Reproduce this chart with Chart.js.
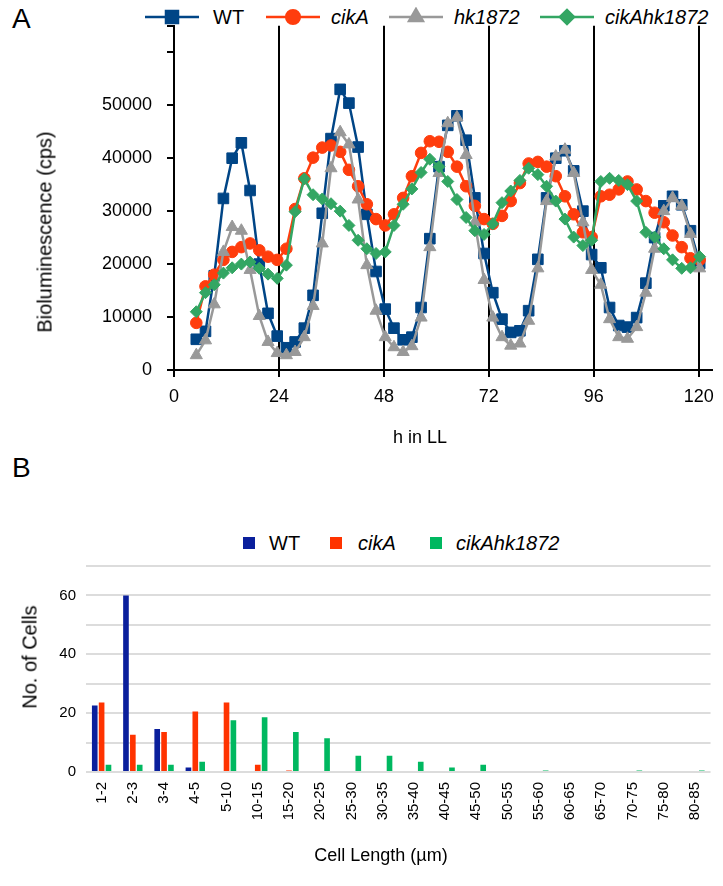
<!DOCTYPE html>
<html>
<head>
<meta charset="utf-8">
<script src="https://cdn.jsdelivr.net/npm/chart.js@4.4.1/dist/chart.umd.min.js"></script>
<style>
  body { margin: 0; background: #fff; font-family: 'Liberation Sans', Arial, sans-serif; color: #000; }
  #page { position: relative; width: 723px; height: 886px; overflow: hidden; }
  .abs { position: absolute; white-space: nowrap; }
  .panel { font-size: 28px; }
  .legtext { font-size: 20px; line-height: 20px; }
  .vtitle { transform: translate(-50%, -50%) rotate(-90deg); font-size: 20px; }
  .htitle { transform: translate(-50%, -50%); font-size: 18px; }
  .sq { width: 12px; height: 12px; }
</style>
</head>
<body>
<div id="page">
  <div class="abs panel" style="left:12px; top:3px;">A</div>
  <div class="abs panel" style="left:12px; top:452px;">B</div>

  <canvas id="swWT" class="abs" width="54" height="20" style="left:145px; top:7px;"></canvas>
  <div class="abs legtext" style="left:213px; top:7px;">WT</div>
  <canvas id="swCikA" class="abs" width="54" height="20" style="left:266px; top:7px;"></canvas>
  <div class="abs legtext" style="left:331px; top:7px;"><i>cikA</i></div>
  <canvas id="swHk" class="abs" width="54" height="20" style="left:389px; top:7px;"></canvas>
  <div class="abs legtext" style="left:454px; top:7px;"><i>hk1872</i></div>
  <canvas id="swCikAhk" class="abs" width="54" height="20" style="left:540px; top:7px;"></canvas>
  <div class="abs legtext" style="left:605px; top:7px;"><i>cikAhk1872</i></div>

  <canvas id="chartA" class="abs" width="723" height="430" style="left:0; top:0;"></canvas>
  <div class="abs vtitle" style="left:45px; top:232px;">Bioluminescence (cps)</div>
  <div class="abs htitle" style="left:420px; top:437px;">h in LL</div>

  <div class="abs sq" style="left:243px; top:537px; background:#0a1f9c;"></div>
  <div class="abs legtext" style="left:269px; top:533px;">WT</div>
  <div class="abs sq" style="left:330px; top:537px; background:#ff3300;"></div>
  <div class="abs legtext" style="left:358px; top:533px;"><i>cikA</i></div>
  <div class="abs sq" style="left:430px; top:537px; background:#00b860;"></div>
  <div class="abs legtext" style="left:456px; top:533px;"><i>cikAhk1872</i></div>

  <canvas id="chartB" class="abs" width="723" height="406" style="left:0; top:480px;"></canvas>
  <div class="abs vtitle" style="left:30px; top:657px;">No. of Cells</div>
  <div class="abs htitle" style="left:381px; top:855px;">Cell Length (µm)</div>
</div>
<script>
const FONT = "'Liberation Sans', Arial, sans-serif";
Chart.defaults.font.family = FONT;
Chart.defaults.color = "#000";

// A: bioluminescence, hours in LL
const hours = [5.1, 7.2, 9.2, 11.3, 13.3, 15.4, 17.4, 19.5, 21.5, 23.6, 25.7, 27.7, 29.8, 31.8, 33.9,
  35.9, 38.0, 40.0, 42.1, 44.1, 46.2, 48.3, 50.3, 52.4, 54.4, 56.5, 58.5, 60.6, 62.6, 64.7, 66.8,
  68.8, 70.9, 72.9, 75.0, 77.0, 79.1, 81.1, 83.2, 85.2, 87.3, 89.4, 91.4, 93.5, 95.5, 97.6, 99.6,
  101.7, 103.7, 105.8, 107.9, 109.9, 112.0, 114.0, 116.1, 118.1, 120.2];
const hourTicks = [0, 24, 48, 72, 96, 120];
const biolumTicks = [0, 10000, 20000, 30000, 40000, 50000, 60000, 65000];

const wt = [5800, 7300, 17800, 32400, 40000, 42900, 33900, 20000, 10700, 6400, 4200, 5300, 7900, 14100,
  29600, 43700, 53000, 50400, 42100, 29400, 18600, 11500, 7900, 5700, 6200, 11800, 24800, 38400, 46200,
  48000, 43400, 32500, 22000, 14600, 9600, 7100, 7400, 11200, 20900, 32500, 40000, 41400, 37600, 30000,
  21800, 19300, 11800, 8400, 8100, 9900, 16400, 25000, 31000, 32800, 31200, 26300, 20100];

const cikA = [8900, 15800, 18000, 20800, 22300, 23200, 23900, 22600, 21400, 20800, 22900, 30400, 36200,
  40100, 42000, 42400, 41200, 37800, 34700, 31300, 28500, 27300, 29400, 32500, 36600, 41000, 43200, 43100,
  41200, 38400, 34700, 31000, 28500, 27600, 29100, 31900, 35300, 39000, 39300, 38400, 36600, 32800, 29400,
  26000, 25100, 32800, 33100, 34100, 35600, 34100, 31900, 29700, 27900, 25400, 23200, 21100, 20800];

const hk1872 = [2800, 5600, 12400, 22300, 27000, 26300, 18900, 10200, 5300, 3200, 2800, 3400, 6200, 12100,
  23900, 38100, 44900, 42600, 32200, 19800, 11200, 6200, 4300, 3400, 4500, 9900, 23200, 37200, 46600,
  47700, 40600, 27900, 17000, 9900, 6200, 4600, 5000, 9300, 19200, 31900, 40300, 41600, 37200, 27900,
  18900, 16100, 9600, 6200, 5900, 8100, 14600, 22900, 30000, 32500, 31000, 25700, 19200];

const cikAhk1872 = [11000, 14600, 16100, 18300, 19300, 20000, 20400, 19200, 18100, 17300, 19800, 29900,
  36100, 33100, 32300, 31400, 30000, 27300, 24500, 22900, 22000, 22300, 27300, 31300, 34200, 37300, 39800,
  38400, 35600, 32200, 28800, 26300, 25600, 27600, 31600, 33800, 35800, 38100, 36900, 34700, 31900, 28500,
  25100, 23500, 24500, 35600, 36200, 35800, 35000, 31900, 26000, 25100, 22900, 20800, 19200, 19300, 21400];

// B: cell length distribution
const lengthBins = ["1-2", "2-3", "3-4", "4-5", "5-10", "10-15", "15-20", "20-25", "25-30", "30-35",
  "35-40", "40-45", "45-50", "50-55", "55-60", "60-65", "65-70", "70-75", "75-80", "80-85"];
const wtCells = [22.6, 60, 14.6, 1.5, 0, 0, 0, 0, 0, 0, 0, 0, 0, 0, 0, 0, 0, 0, 0, 0];
const cikACells = [23.6, 12.7, 13.6, 20.6, 23.6, 2.5, 0.5, 0, 0, 0, 0, 0, 0, 0, 0, 0, 0, 0, 0, 0];
const cikAhkCells = [2.5, 2.5, 2.5, 3.5, 17.6, 18.6, 13.6, 11.5, 5.5, 5.5, 3.5, 1.5, 2.5, 0, 0.5, 0, 0, 0.5, 0, 0.5];

const series = [
  { label: "WT", values: wt, color: "#004586", style: "rect", r: 7.5, order: 4, sw: "swWT" },
  { label: "cikA", values: cikA, color: "#ff3d0d", style: "circle", r: 5.8, order: 3, sw: "swCikA" },
  { label: "hk1872", values: hk1872, color: "#999999", style: "triangle", r: 7, order: 2, sw: "swHk" },
  { label: "cikAhk1872", values: cikAhk1872, color: "#33a663", style: "rectRot", r: 6, order: 1, sw: "swCikAhk" },
];

// legend swatches: line with marker in the middle
function drawSwatch(s) {
  const c = document.getElementById(s.sw).getContext("2d");
  c.strokeStyle = s.color;
  c.fillStyle = s.color;
  c.lineWidth = 2.5;
  c.beginPath(); c.moveTo(0, 10); c.lineTo(54, 10); c.stroke();
  Chart.helpers.drawPoint(c, { pointStyle: s.style, radius: s.r + 1, borderWidth: 1 }, 27, 10);
  c.fill();
}
series.forEach(drawSwatch);

new Chart(document.getElementById("chartA"), {
  type: "line",
  data: {
    datasets: series.map(s => ({
      label: s.label,
      data: hours.map((h, i) => ({ x: h, y: s.values[i] })),
      borderColor: s.color,
      backgroundColor: s.color,
      pointBackgroundColor: s.color,
      pointBorderColor: s.color,
      pointStyle: s.style,
      pointRadius: s.r,
      pointBorderWidth: 1,
      borderWidth: 2.5,
      order: s.order,
      tension: 0,
    })),
  },
  options: {
    responsive: false,
    animation: false,
    layout: { padding: { top: 20, right: 6, left: 0, bottom: 0 } },
    plugins: { legend: { display: false }, tooltip: { enabled: false } },
    scales: {
      x: {
        type: "linear",
        min: 0,
        max: 123,
        border: { color: "#000", width: 2 },
        grid: { color: "#000", lineWidth: 2, tickLength: 7 },
        ticks: { padding: 9, maxRotation: 0, font: { size: 18 } },
        afterBuildTicks(scale) { scale.ticks = hourTicks.map(v => ({ value: v })); },
        afterFit(scale) { scale.height = 60; },
      },
      y: {
        min: 0,
        max: 65000,
        border: { color: "#000", width: 2 },
        grid: { drawOnChartArea: false, color: "#000", lineWidth: 2, tickLength: 7 },
        ticks: {
          padding: 15,
          font: { size: 18 },
          callback: v => (v <= 50000 ? String(v) : ""),
        },
        afterBuildTicks(scale) { scale.ticks = biolumTicks.map(v => ({ value: v })); },
        afterFit(scale) { scale.width = 174; },
      },
    },
  },
});

new Chart(document.getElementById("chartB"), {
  type: "bar",
  data: {
    labels: lengthBins,
    datasets: [
      { label: "WT", data: wtCells, backgroundColor: "#0a1f9c" },
      { label: "cikA", data: cikACells, backgroundColor: "#ff3300" },
      { label: "cikAhk1872", data: cikAhkCells, backgroundColor: "#00b860" },
    ],
  },
  options: {
    responsive: false,
    animation: false,
    layout: { padding: { top: 86, right: 3, left: 0, bottom: 0 } },
    datasets: { bar: { categoryPercentage: 0.66, barPercentage: 0.82 } },
    plugins: { legend: { display: false }, tooltip: { enabled: false } },
    scales: {
      x: {
        grid: { display: false, drawTicks: false },
        border: { display: false },
        ticks: { autoSkip: false, minRotation: 90, maxRotation: 90, padding: 10, font: { size: 15 } },
        afterFit(scale) { scale.height = 114; },
      },
      y: {
        min: 0,
        max: 70,
        border: { display: false },
        grid: { color: "#dcdcdc", lineWidth: 2, drawTicks: false },
        ticks: { stepSize: 10, padding: 10, font: { size: 15 }, callback: v => (v % 20 === 0 ? v : "") },
        afterFit(scale) { scale.width = 86; },
      },
    },
  },
});
</script>
</body>
</html>
